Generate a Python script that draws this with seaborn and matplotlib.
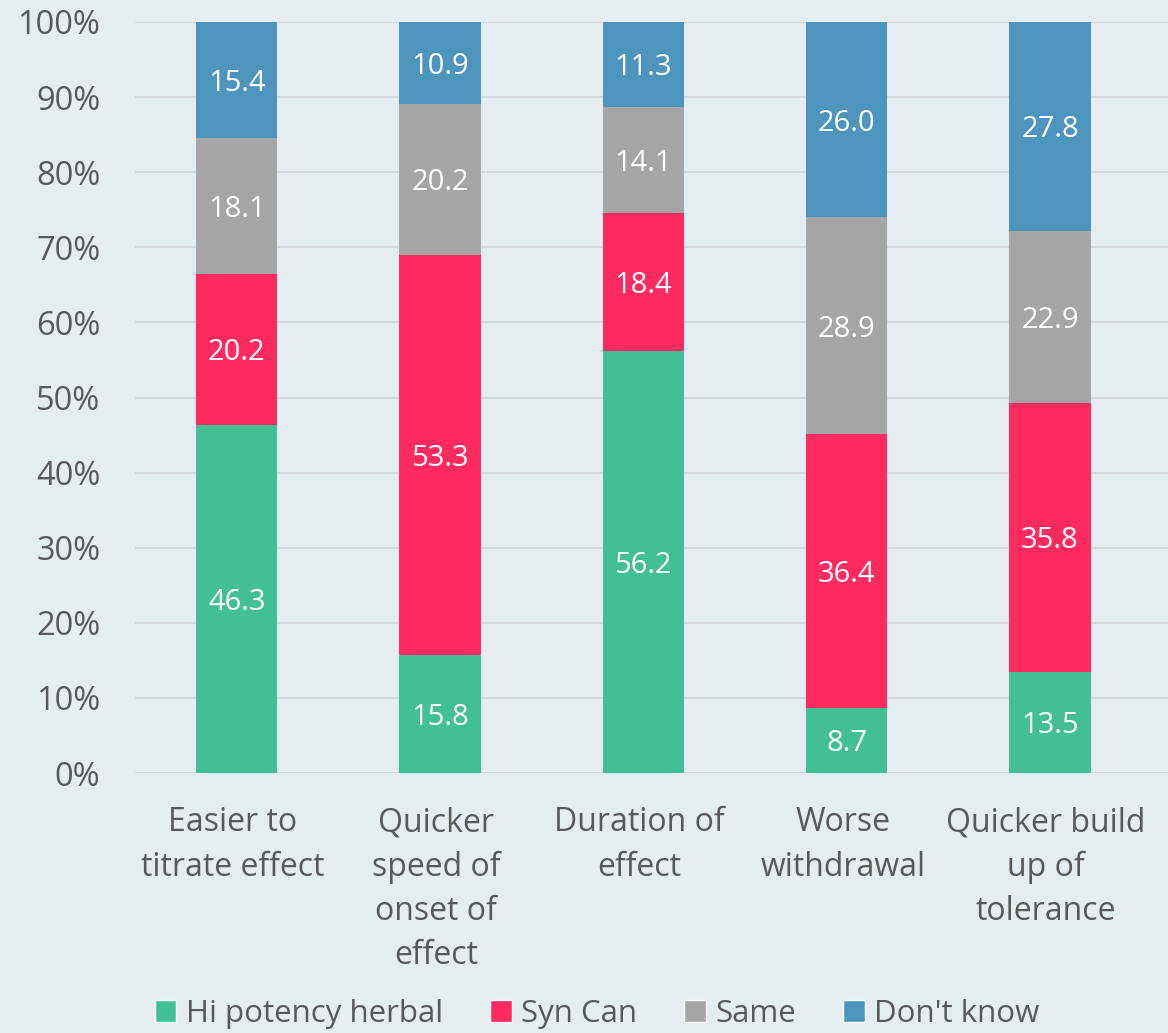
import numpy as np
import pandas as pd
import matplotlib
matplotlib.use("Agg")
import matplotlib.pyplot as plt
import matplotlib.transforms as mtransforms
import seaborn as sns
from matplotlib.patches import Patch

categories = ["Easier to\ntitrate effect", "Quicker\nspeed of\nonset of\neffect",
              "Duration of\neffect", "Worse\nwithdrawal", "Quicker build\nup of\ntolerance"]
series_names = ["Hi potency herbal", "Syn Can", "Same", "Don't know"]
hi_potency = [46.3, 15.8, 56.2, 8.7, 13.5]
syn_can = [20.2, 53.3, 18.4, 36.4, 35.8]
same = [18.1, 20.2, 14.1, 28.9, 22.9]
dont_know = [15.4, 10.9, 11.3, 26.0, 27.8]
colors = ["#43BF96", "#FF2A5F", "#A5A5A5", "#4E95BE"]

sns.set_theme(style="white")
plt.rcParams["font.family"] = ["Open Sans", "DejaVu Sans"]
bg = "#E5EDF0"

vals = np.array([hi_potency, syn_can, same, dont_know], dtype=float)
pct = vals / vals.sum(axis=0) * 100
cum = np.cumsum(pct, axis=0)

fig = plt.figure(figsize=(11.68, 10.33), dpi=100, facecolor=bg)
ax = fig.add_axes([135/1168, 1 - 773/1033, 1 - 135/1168, (773 - 22)/1033])
ax.set_facecolor(bg)

idx = list(range(len(categories)))
for i in range(3, -1, -1):
    df = pd.DataFrame({"cat": idx, "v": cum[i]})
    sns.barplot(data=df, x="cat", y="v", color=colors[i], width=0.4,
                saturation=1, ax=ax, zorder=2, linewidth=0, order=idx)

for i in range(4):
    for j in idx:
        mid = cum[i, j] - pct[i, j] / 2
        ax.text(j, mid, f"{vals[i, j]:.1f}", ha="center", va="center_baseline",
                color="white", fontsize=21, zorder=5)

ax.set_ylim(0, 100)
ax.set_xlim(-0.5, 4.58)
ax.set_yticks(np.arange(0, 101, 10))
ax.set_yticklabels([f"{t}%" for t in range(0, 101, 10)])
ax.set_xticks(idx)
ax.set_xticklabels(categories, linespacing=1.45)
ax.set_xlabel("")
ax.set_ylabel("")
ax.grid(axis="y", color="#D6D9DB", linewidth=1.5, zorder=0)
ax.set_axisbelow(True)
for s in ax.spines.values():
    s.set_visible(False)
ax.tick_params(axis="y", labelsize=23.5, labelcolor="#595959", length=0, pad=25)
ax.tick_params(axis="x", labelsize=23, labelcolor="#595959", length=0, pad=24)
shift = mtransforms.ScaledTranslation(-4/100, 0, fig.dpi_scale_trans)
for lab in ax.get_xticklabels():
    lab.set_transform(lab.get_transform() + shift)

handles = [Patch(facecolor=c, label=n) for c, n in zip(colors, series_names)]
fig.legend(handles=handles, loc="center", bbox_to_anchor=(597/1168, 1 - 1014/1033),
           ncol=4, frameon=False, fontsize=22.5, handlelength=0.7, handleheight=0.7,
           handletextpad=0.3, columnspacing=1.5, labelcolor="#595959")

fig.savefig("out.png", dpi=100, facecolor=bg)
